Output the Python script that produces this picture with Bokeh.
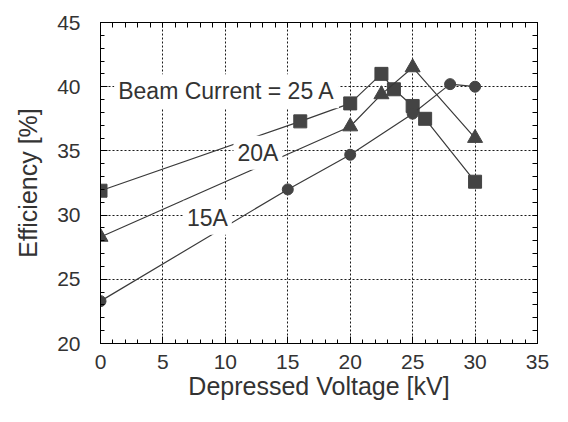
from bokeh.plotting import figure
from bokeh.models import LinearAxis, SingleIntervalTicker, FixedTicker, Label, Range1d
from bokeh.embed import file_html
from bokeh.resources import INLINE

# Data
v25 = [0, 16, 20, 22.5, 23.5, 25, 26, 30]
e25 = [31.9, 37.3, 38.7, 41.0, 39.8, 38.5, 37.5, 32.6]
v20 = [0, 20, 22.5, 25, 30]
e20 = [28.3, 36.9, 39.4, 41.5, 36.0]
v15 = [0, 15, 20, 25, 28, 30]
e15 = [23.3, 32.0, 34.7, 37.9, 40.2, 40.0]

x_title = "Depressed Voltage [kV]"
y_title = "Efficiency [%]"
x_minor_ticks = list(range(0, 36))
y_minor_ticks = list(range(20, 46))

FONT = "Liberation Sans"
TXT = "#333333"
LINE = "#3a3a3a"
MARK = "#444444"

p = figure(width=552, height=406, output_backend="svg", toolbar_location=None,
           x_range=Range1d(0, 35), y_range=Range1d(20, 45),
           min_border_left=100, min_border_right=15, min_border_top=22, min_border_bottom=63,
           x_axis_label=x_title, y_axis_label=y_title)

p.outline_line_color = "black"
p.outline_line_width = 1
p.background_fill_color = "white"
p.border_fill_color = "white"

def style_axis(ax):
    ax.ticker = SingleIntervalTicker(interval=5, num_minor_ticks=5)
    ax.major_tick_in = 7
    ax.major_tick_out = 0
    ax.minor_tick_in = 4
    ax.minor_tick_out = 0
    ax.axis_line_color = "black"
    ax.major_tick_line_color = "black"
    ax.minor_tick_line_color = "black"
    ax.major_label_text_font = FONT
    ax.major_label_text_font_size = "21px"
    ax.major_label_text_color = TXT
    ax.axis_label_text_font = FONT
    ax.axis_label_text_font_size = "25px"
    ax.axis_label_text_font_style = "normal"
    ax.axis_label_text_color = TXT

style_axis(p.xaxis[0])
style_axis(p.yaxis[0])
p.xaxis[0].major_label_standoff = 11
p.xaxis[0].axis_label_standoff = 0
p.yaxis[0].major_label_standoff = 20
p.yaxis[0].axis_label_standoff = 12

def tick_only_axis(ticks):
    ax = LinearAxis(ticker=FixedTicker(ticks=[], minor_ticks=ticks))
    ax.major_label_text_font_size = "21px"
    ax.minor_tick_in = 5
    ax.minor_tick_out = 0
    ax.major_tick_in = 0
    ax.major_tick_out = 0
    ax.axis_line_color = "black"
    ax.minor_tick_line_color = "black"
    ax.major_label_standoff = 0
    return ax

p.add_layout(tick_only_axis(y_minor_ticks), "right")
p.add_layout(tick_only_axis(x_minor_ticks), "above")

for g in (p.xgrid[0], p.ygrid[0]):
    g.ticker = SingleIntervalTicker(interval=5)
    g.grid_line_color = "black"
    g.grid_line_dash = "2 2"
    g.grid_line_width = 1
    g.grid_line_alpha = 0.9

# Series
p.line(v25, e25, line_color=LINE, line_width=1.2)
p.scatter(v25, e25, marker="square", size=13, fill_color=MARK, line_color=MARK)
p.line(v20, e20, line_color=LINE, line_width=1.2)
p.scatter(v20, e20, marker="triangle", size=15, fill_color=MARK, line_color=MARK)
p.line(v15, e15, line_color=LINE, line_width=1.2)
p.scatter(v15, e15, marker="circle", size=11, fill_color=MARK, line_color=MARK)

# Labels with white boxes (mask lines/grid)
labels = [
    ("Beam Current = 25 A", 1.1, 39.65),
    ("20A", 10.65, 34.85),
    ("15A", 6.6, 29.8),
]
for txt, lx, ly in labels:
    p.add_layout(Label(x=lx, y=ly, text=txt, text_font=FONT, text_font_size="23px",
                       text_color=TXT, text_align="left", text_baseline="middle",
                       background_fill_color="white", padding=4))

open("out.html", "w").write(file_html(p, INLINE))
